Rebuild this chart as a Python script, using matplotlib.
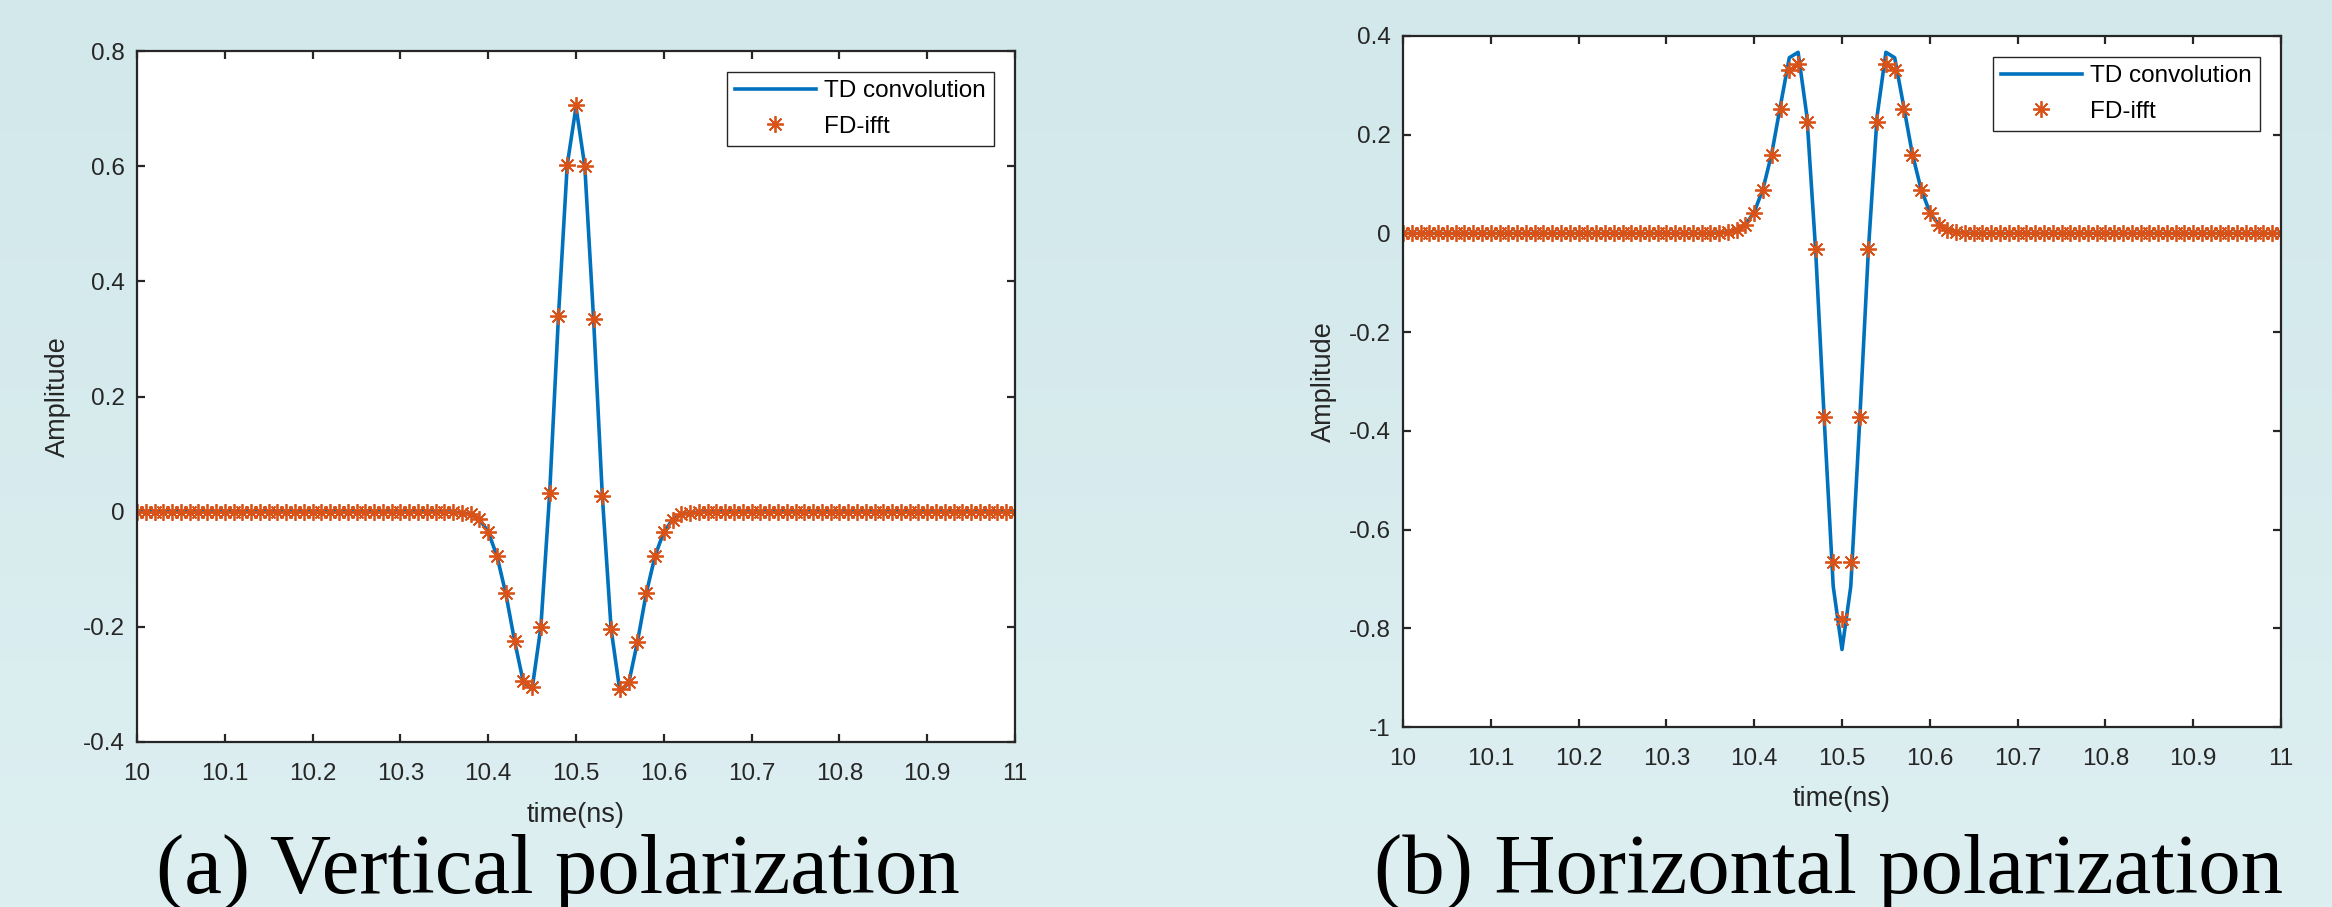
import matplotlib
matplotlib.use('Agg')
import matplotlib.pyplot as plt
import numpy as np

plt.rcParams['font.family'] = ['Liberation Sans', 'DejaVu Sans']
plt.rcParams['axes.unicode_minus'] = False

# time axis (ns): samples every 0.01 ns from 10 to 11
t = np.linspace(10, 11, 101)

# only the centre (samples 34..66) is non-zero, the rest is flat at 0
pad_left = [0.0] * 34
pad_right = [0.0] * 34

# (a) vertical polarization
v_td_mid = [0.0, 0.0, -0.001, -0.002, -0.004, -0.013, -0.035, -0.077, -0.142, -0.224,
            -0.296, -0.308, -0.200, 0.032, 0.339, 0.602, 0.703, 0.600, 0.335, 0.027,
            -0.204, -0.312, -0.298, -0.226, -0.142, -0.077, -0.035, -0.014, -0.004,
            -0.002, -0.001, 0.0, 0.0]
v_fd_mid = [0.0, 0.0, -0.001, -0.002, -0.004, -0.013, -0.035, -0.077, -0.142, -0.224,
            -0.294, -0.304, -0.200, 0.032, 0.339, 0.602, 0.706, 0.600, 0.335, 0.027,
            -0.204, -0.308, -0.296, -0.226, -0.142, -0.077, -0.035, -0.014, -0.004,
            -0.002, -0.001, 0.0, 0.0]

# (b) horizontal polarization
h_td_mid = [0.0, 0.0, 0.001, 0.003, 0.007, 0.018, 0.043, 0.090, 0.162, 0.260,
            0.356, 0.367, 0.238, -0.035, -0.385, -0.715, -0.843, -0.715, -0.385, -0.035,
            0.238, 0.367, 0.356, 0.260, 0.162, 0.090, 0.043, 0.018, 0.007,
            0.003, 0.001, 0.0, 0.0]
h_fd_mid = [0.0, 0.0, 0.001, 0.003, 0.007, 0.018, 0.042, 0.088, 0.159, 0.252,
            0.331, 0.343, 0.226, -0.032, -0.371, -0.665, -0.782, -0.665, -0.371, -0.032,
            0.226, 0.343, 0.331, 0.252, 0.159, 0.088, 0.042, 0.018, 0.007,
            0.003, 0.001, 0.0, 0.0]

v_td = np.array(pad_left + v_td_mid + pad_right)
v_fd = np.array(pad_left + v_fd_mid + pad_right)
h_td = np.array(pad_left + h_td_mid + pad_right)
h_fd = np.array(pad_left + h_fd_mid + pad_right)

x_ticks = [10, 10.1, 10.2, 10.3, 10.4, 10.5, 10.6, 10.7, 10.8, 10.9, 11]
x_ticklabels = ['10', '10.1', '10.2', '10.3', '10.4', '10.5', '10.6', '10.7', '10.8', '10.9', '11']
v_yticks = [-0.4, -0.2, 0, 0.2, 0.4, 0.6, 0.8]
v_yticklabels = ['-0.4', '-0.2', '0', '0.2', '0.4', '0.6', '0.8']
h_yticks = [-1, -0.8, -0.6, -0.4, -0.2, 0, 0.2, 0.4]
h_yticklabels = ['-1', '-0.8', '-0.6', '-0.4', '-0.2', '0', '0.2', '0.4']

BLUE = '#0072BD'
ORANGE = '#D95319'
DARK = '#262626'

fig = plt.figure(figsize=(23.32, 9.07), dpi=100)

# light teal background, slightly lighter towards the bottom
bg = fig.add_axes([0, 0, 1, 1], zorder=-10)
grad = np.linspace(0, 1, 256)[:, None, None]
top_c = np.array([210, 232, 235]) / 255
bot_c = np.array([221, 239, 241]) / 255
bg.imshow(top_c + (bot_c - top_c) * grad, aspect='auto', extent=[0, 1, 0, 1])
bg.axis('off')


def draw_panel(rect, td, fd, yticks, yticklabels, ylim, caption, cap_x):
    ax = fig.add_axes(rect)
    ax.plot(t, td, color=BLUE, linewidth=2.6, label='TD convolution')
    ax.plot(t, fd, linestyle='none', marker=(8, 2, 0), markersize=12,
            markeredgecolor=ORANGE, markeredgewidth=1.3, color=ORANGE, label='FD-ifft')
    ax.set_xlim(10, 11)
    ax.set_ylim(*ylim)
    ax.set_xticks(x_ticks)
    ax.set_xticklabels(x_ticklabels)
    ax.set_yticks(yticks)
    ax.set_yticklabels(yticklabels)
    ax.tick_params(direction='in', top=True, right=True, length=6, width=1.6,
                   color=DARK, labelcolor=DARK, labelsize=17.5)
    ax.tick_params(axis='x', pad=15)
    ax.tick_params(axis='y', pad=9)
    for s in ax.spines.values():
        s.set_linewidth(1.6)
        s.set_color(DARK)
    ax.set_xlabel('time(ns)', fontsize=19.5, color=DARK, labelpad=12)
    ax.set_ylabel('Amplitude', fontsize=19.5, color=DARK, labelpad=8)
    leg = ax.legend(loc='upper right', fontsize=17.5, frameon=True, fancybox=False,
                    framealpha=1, edgecolor=DARK, handlelength=3.3, handletextpad=0.35,
                    borderpad=0.35, labelspacing=0.55, borderaxespad=0.85)
    leg.get_frame().set_linewidth(1.0)
    fig.text(cap_x, 1 - 893 / 907, caption, ha='center', va='baseline',
             family='Liberation Serif', fontsize=61, color='black')
    return ax


draw_panel([137 / 2332, 1 - 742 / 907, 878 / 2332, 691 / 907], v_td, v_fd,
           v_yticks, v_yticklabels, (-0.4, 0.8), '(a) Vertical polarization', 558 / 2332)
draw_panel([1403 / 2332, 1 - 727 / 907, 878 / 2332, 691 / 907], h_td, h_fd,
           h_yticks, h_yticklabels, (-1, 0.4), '(b) Horizontal polarization', 1828 / 2332)

fig.savefig('out.png', dpi=100)
